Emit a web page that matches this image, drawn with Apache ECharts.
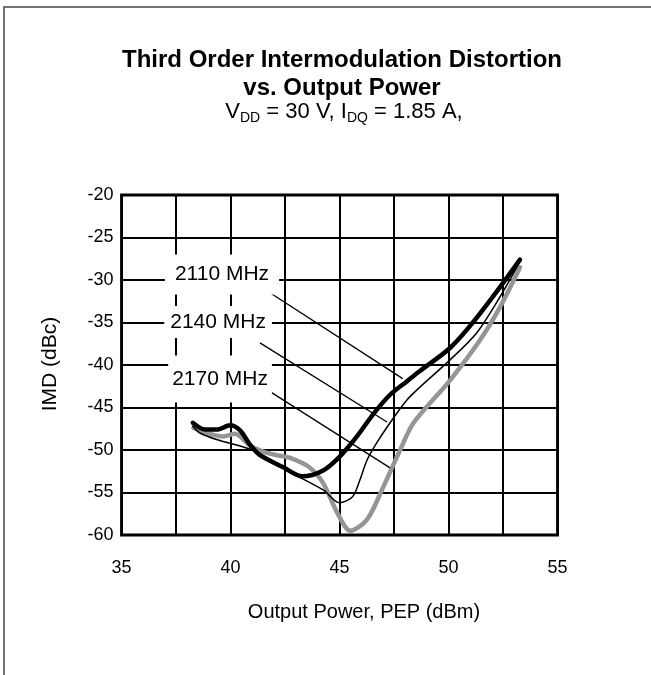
<!DOCTYPE html>
<html>
<head>
<meta charset="utf-8">
<script src="https://cdn.jsdelivr.net/npm/echarts@6/dist/echarts.min.js"></script>
<style>
html,body{margin:0;padding:0;background:#fff;}
#c{width:651px;height:675px;}
</style>
</head>
<body>
<div id="c"></div>
<script>
// ---- data ----
const xTicks = [35, 40, 45, 50, 55];
const yTicks = [-60, -55, -50, -45, -40, -35, -30, -25, -20];
const seriesNames = ['2110 MHz', '2140 MHz', '2170 MHz'];

const imd2110 = [
  [38.27,-46.8],[38.83,-47.6],[39.37,-47.6],[39.98,-47.1],[40.44,-47.7],[40.9,-49.4],
  [41.35,-50.6],[42.4,-52.0],[43.3,-53.1],[44.25,-52.4],[45.0,-50.8],[45.8,-48.4],
  [46.54,-45.8],[47.32,-43.5],[48.1,-41.9],[48.69,-40.7],[50.07,-38.0],[51.12,-35.0],
  [52.2,-31.4],[53.28,-27.6]
];
const imd2140 = [
  [38.27,-47.2],[38.6,-48.0],[39.4,-48.8],[41.0,-50.0],[42.0,-51.4],[42.73,-52.6],
  [44.25,-54.7],[45.0,-56.2],[45.6,-55.5],[45.94,-53.5],[46.26,-51.2],[46.7,-49.2],
  [47.32,-46.8],[48.1,-44.1],[48.69,-42.6],[50.07,-39.4],[51.3,-36.2],[52.36,-32.0],
  [53.2,-28.2]
];
const imd2170 = [
  [38.3,-47.4],[38.8,-47.9],[39.66,-48.4],[40.2,-48.1],[40.9,-49.5],[41.5,-50.2],
  [42.1,-50.6],[42.7,-50.9],[43.6,-52.0],[44.25,-53.9],[44.9,-57.4],[45.5,-59.5],
  [46.26,-58.2],[47.0,-54.4],[47.78,-50.0],[48.4,-46.8],[50.07,-41.8],[51.44,-37.1],
  [52.36,-33.2],[53.28,-28.5]
];

// annotation anchors (data coordinates): label centre, leader start, leader end
const labelAt = [[39.61,-29.35],[39.43,-34.95],[39.52,-41.65]];
const leaderFrom = [[41.81,-31.5],[41.35,-37.4],[41.67,-42.9]];
const leaderTo = [[47.9,-41.6],[47.18,-46.7],[47.32,-52.1]];

// ---- chart ----
const chart = echarts.init(document.getElementById('c'));
const FONT = '"Liberation Sans", Arial, sans-serif';

const curveStyles = [
  {color:'#000000', width:4.5, z:4},
  {color:'#000000', width:1.5, z:5},
  {color:'#959595', width:4.5, z:3}
];
const labelPads = [[9,10,7,10],[6,6,2,6],[17,4,6,4]];
const curveData = [imd2110, imd2140, imd2170];

const series = [];
curveData.forEach((d, i) => {
  series.push({
    type:'line', name: seriesNames[i], data: d, showSymbol:false, symbol:'none',
    smooth:0.3,
    lineStyle:{color:curveStyles[i].color, width:curveStyles[i].width, cap:'round', join:'round'},
    z: curveStyles[i].z, silent:true, animation:false
  });
});
seriesNames.forEach((n, i) => {
  series.push({
    type:'line', data:[leaderFrom[i], leaderTo[i]], showSymbol:false, symbol:'none',
    lineStyle:{color:'#000', width:1.3}, z:6, silent:true, animation:false
  });
});
series.push({
  type:'scatter', symbolSize:0, z:10, animation:false, silent:true,
  itemStyle:{opacity:1},
  data: seriesNames.map((n, i) => ({name:n, value: labelAt[i], label:{padding:labelPads[i]}})),
  label:{
    show:true, position:'inside', formatter:'{b}', color:'#000', opacity:1,
    fontFamily:FONT, fontSize:21, lineHeight:24,
    backgroundColor:'#fff'
  }
});

chart.setOption({
  animation:false,
  backgroundColor:'#fff',
  graphic:[
    {
      type:'rect', shape:{x:4, y:7, width:700, height:700},
      style:{fill:null, stroke:'#444', lineWidth:1.5}, silent:true, z:-1
    },
    {
      type:'text', x:342, y:60, silent:true,
      style:{text:'Third Order Intermodulation Distortion', align:'center', verticalAlign:'middle',
        font:'bold 24px ' + FONT, fill:'#000'}
    },
    {
      type:'text', x:342, y:88, silent:true,
      style:{text:'vs. Output Power', align:'center', verticalAlign:'middle',
        font:'bold 24px ' + FONT, fill:'#000'}
    },
    {
      type:'text', x:344, y:112, silent:true,
      style:{
        text:'{n|V}{s|DD}{n| = 30 V, I}{s|DQ}{n| = 1.85 A,}',
        align:'center', verticalAlign:'middle',
        rich:{
          n:{fontFamily:FONT, fontSize:22, lineHeight:26, fill:'#000'},
          s:{fontFamily:FONT, fontSize:14, lineHeight:13, verticalAlign:'bottom', fill:'#000'}
        }
      }
    },
    {
      type:'text', x:364, y:612, silent:true,
      style:{text:'Output Power, PEP (dBm)', align:'center', verticalAlign:'middle',
        font:'20px ' + FONT, fill:'#000'}
    },
    {
      type:'text', x:50, y:364, rotation:Math.PI/2, silent:true,
      style:{text:'IMD (dBc)', align:'center', verticalAlign:'middle',
        font:'21px ' + FONT, fill:'#000'}
    }
  ],
  grid:{left:121.5, top:195, width:436, height:340, show:true, borderColor:'#000', borderWidth:2.8, backgroundColor:'transparent'},
  xAxis:{
    type:'value', min:35, max:55, interval:2.5,
    axisLine:{show:false}, axisTick:{show:false},
    axisLabel:{fontFamily:FONT, fontSize:18, color:'#000', margin:24,
      formatter: v => xTicks.includes(v) ? String(v) : ''},
    splitLine:{show:true, lineStyle:{color:'#000', width:2}}
  },
  yAxis:{
    type:'value', min:-60, max:-20, interval:5,
    axisLine:{show:false}, axisTick:{show:false},
    axisLabel:{fontFamily:FONT, fontSize:18, color:'#000', margin:8,
      formatter: v => yTicks.includes(v) ? String(v) : ''},
    splitLine:{show:true, lineStyle:{color:'#000', width:2}}
  },
  series: series
});
</script>
</body>
</html>
